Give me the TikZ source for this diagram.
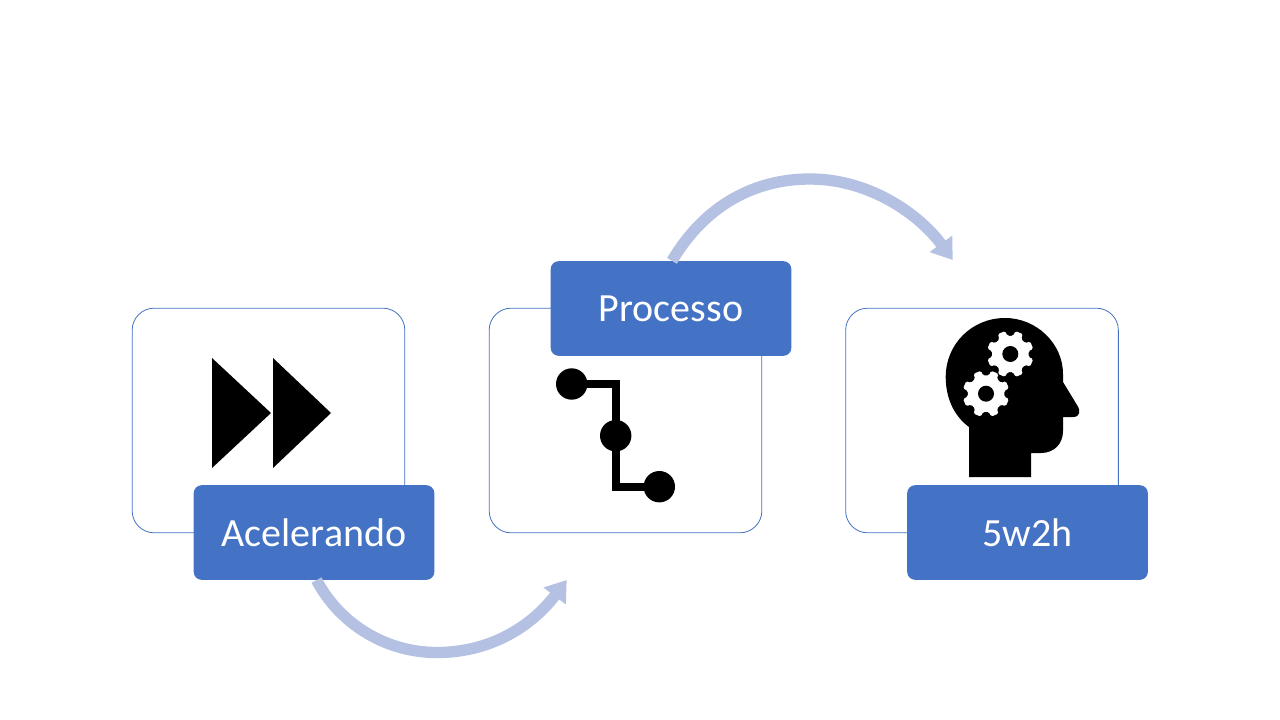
\documentclass[tikz,border=0pt]{standalone}
\usepackage{fontspec}
\setmainfont{Carlito}
\usetikzlibrary{arrows.meta,calc}
\definecolor{fr}{HTML}{4472C4}
\definecolor{lt}{HTML}{B4C1E3}
\tikzset{
 framebox/.style={draw=fr,line width=0.6pt,fill=white,rounded corners=16.5pt,minimum width=204.5pt,minimum height=168.5pt,inner sep=0pt},
 labelbox/.style={fill=fr,text=white,rounded corners=6pt,minimum width=180.5pt,minimum height=71pt,inner sep=0pt,font=\fontsize{30}{36}\selectfont},
 flow/.style={draw=lt,line width=8.5pt,-{Triangle[length=15pt,width=20pt,color=lt]}},
 icon/.style={fill=black,draw=none},
 iconline/.style={draw=black,line width=6pt,miter limit=10}
}
\newcommand{\gearshape}[2]{%
 \fill[white,rounded corners=1.2pt] ($(#1,#2)+(9.5:18.5)$)
  \foreach \k in {0,...,7}{
   -- ($(#1,#2)+({\k*45+22.5-13}:18.5)$) -- ($(#1,#2)+({\k*45+22.5-10}:23.5)$) -- ($(#1,#2)+({\k*45+22.5+10}:23.5)$) -- ($(#1,#2)+({\k*45+22.5+13}:18.5)$)
  } -- cycle;
 \fill[black] (#1,#2) circle (8);}
\begin{document}
\begin{tikzpicture}[x=0.75pt,y=-0.75pt]
\useasboundingbox (0,0) rectangle (1280,720);
\fill[white] (0,0) rectangle (1280,720);
% frames
\node[framebox] (f1) at (268.5,420.5) {};
\node[framebox] (f2) at (625.5,420.5) {};
\node[framebox] (f3) at (982,420.5) {};
% fast-forward icon
\fill[icon] (212,358) -- (212,468) -- (271,413) -- cycle;
\fill[icon] (273,358) -- (273,468) -- (331,413) -- cycle;
% process icon
\coordinate (p1) at (571.7,384);
\coordinate (p2) at (615.7,435.7);
\coordinate (p3) at (659.3,486.7);
\draw[iconline] (p1) -| (p2) |- (p3);
\fill[icon] (p1) circle (15.7);
\fill[icon] (p2) circle (15.7);
\fill[icon] (p3) circle (15.7);
% head icon
\fill[icon] (969,477) -- (969,427)
 .. controls (954,416) and (945.7,398) .. (945.7,377)
 .. controls (945.7,344) and (972,318) .. (1005,318)
 .. controls (1037,318) and (1063,344) .. (1063,374)
 -- (1063,382)
 -- (1077,405)
 .. controls (1081,411) and (1080,417) .. (1073,417)
 -- (1063,417) -- (1063,431)
 .. controls (1063,444) and (1054,453) .. (1041,453)
 -- (1031,453) -- (1031,477) -- cycle;
\gearshape{1010.3}{354}
\gearshape{986}{393.7}
% labels
\node[labelbox] (a) at (314,532.5) {Acelerando};
\node[labelbox] (b) at (671,308.5) {Processo};
\node[labelbox] (c) at (1027.5,532.5) {5w2h};
% connectors
\coordinate (e1) at (566.7,580);
\coordinate (e2) at (952.7,260);
\draw[flow] ($(a.south)+(2.5,0)$) .. controls (340.4,625.1) and (386.8,652.5) .. (437,652.5)
 .. controls (495,652.5) and (535,622) .. (e1);
\draw[flow] ($(b.north)+(1,0)$) .. controls (705,205) and (755,179) .. (810,179)
 .. controls (870,179) and (920,215) .. (e2);
\end{tikzpicture}
\end{document}
